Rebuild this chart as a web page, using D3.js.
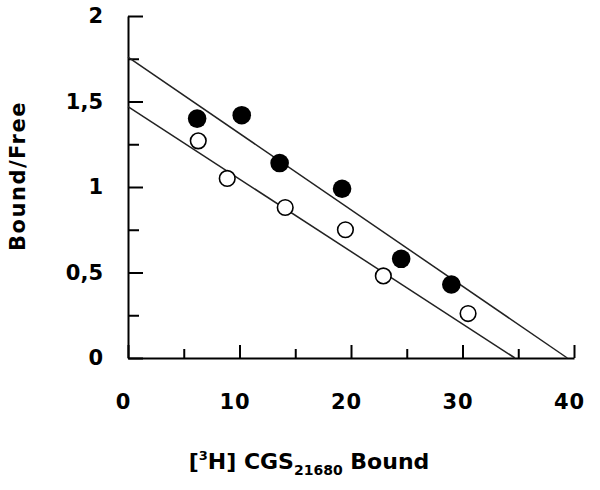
<!DOCTYPE html>
<html>
<head>
<meta charset="utf-8">
<script src="https://cdn.jsdelivr.net/npm/d3@7"></script>
<style>
  body { margin: 0; background: #fff; }
  text { font-family: "DejaVu Sans", sans-serif; font-weight: bold; fill: #000; }
</style>
</head>
<body>
<div id="chart"></div>
<script>
// filled circles
let boundFilled = [6.2, 10.2, 13.6, 19.2, 24.5, 29.0];
let ratioFilled = [1.40, 1.42, 1.14, 0.99, 0.58, 0.43];
// open circles
let boundOpen = [6.3, 8.9, 14.1, 19.5, 22.9, 30.5];
let ratioOpen = [1.27, 1.05, 0.88, 0.75, 0.48, 0.26];
// fitted lines, start and end
let fitFilledX = [0, 39.4], fitFilledY = [1.76, 0];
let fitOpenX = [0, 34.7], fitOpenY = [1.47, 0];

let xMajor = [0, 10, 20, 30, 40];
let xMinor = [5, 15, 25, 35];
let yMajor = [0, 0.5, 1, 1.5, 2];
let yMinor = [0.25, 0.75, 1.25, 1.75];
let yLabels = ["0", "0,5", "1", "1,5", "2"];

let svg = d3.select("#chart").append("svg")
  .attr("width", 600)
  .attr("height", 490);

let x = d3.scaleLinear().domain([0, 40]).range([128, 574]);
let y = d3.scaleLinear().domain([0, 2]).range([358, 16]);

// x axis
let xAx = svg.append("g").attr("transform", "translate(0,358)")
  .call(d3.axisBottom(x).tickValues(xMajor).tickSizeInner(-13).tickSizeOuter(0).tickPadding(36));
svg.append("g").attr("transform", "translate(0,358)")
  .call(d3.axisBottom(x).tickValues(xMinor).tickSizeInner(-9).tickSizeOuter(0).tickFormat(""))
  .select(".domain").remove();
xAx.selectAll("text").attr("font-size", 21).attr("dx", -5).style("letter-spacing", "1px");

// y axis
let yAx = svg.append("g").attr("transform", "translate(128,0)")
  .call(d3.axisLeft(y).tickValues(yMajor).tickSizeInner(-15).tickSizeOuter(0).tickPadding(25)
    .tickFormat((d, i) => yLabels[i]));
svg.append("g").attr("transform", "translate(128,0)")
  .call(d3.axisLeft(y).tickValues(yMinor).tickSizeInner(-11).tickSizeOuter(0).tickFormat(""))
  .select(".domain").remove();
yAx.selectAll("text").attr("font-size", 21);

svg.selectAll(".domain, .tick line").attr("stroke", "#000").attr("stroke-width", 2);
svg.selectAll(".tick text").style("font-family", "DejaVu Sans").style("font-weight", "bold");

// fitted lines
let line = d3.line().x(d => x(d[0])).y(d => y(d[1]));
svg.append("path")
  .attr("d", line(d3.zip(fitFilledX, fitFilledY)))
  .attr("fill", "none").attr("stroke", "#222").attr("stroke-width", 1.5);
svg.append("path")
  .attr("d", line(d3.zip(fitOpenX, fitOpenY)))
  .attr("fill", "none").attr("stroke", "#222").attr("stroke-width", 1.5);

// points
svg.selectAll(".open").data(d3.zip(boundOpen, ratioOpen)).enter()
  .append("circle")
    .attr("class", "open")
    .attr("cx", d => x(d[0]))
    .attr("cy", d => y(d[1]))
    .attr("r", 7.8)
    .attr("fill", "#fff")
    .attr("stroke", "#000")
    .attr("stroke-width", 1.6);

svg.selectAll(".filled").data(d3.zip(boundFilled, ratioFilled)).enter()
  .append("circle")
    .attr("class", "filled")
    .attr("cx", d => x(d[0]))
    .attr("cy", d => y(d[1]))
    .attr("r", 9.3)
    .attr("fill", "#000");

// axis titles
let xt = svg.append("text")
  .attr("x", 309)
  .attr("y", 469)
  .attr("text-anchor", "middle")
  .attr("font-size", 22);
xt.append("tspan").text("[");
xt.append("tspan").text("3").attr("font-size", 13).attr("dy", -9);
xt.append("tspan").text("H] CGS").attr("dy", 9);
xt.append("tspan").text("21680").attr("font-size", 14).attr("dy", 6);
xt.append("tspan").text(" Bound").attr("dy", -6);

svg.append("text")
  .attr("transform", "translate(25,176) rotate(-90)")
  .attr("text-anchor", "middle")
  .attr("font-size", 21)
  .style("letter-spacing", "1.5px")
  .text("Bound/Free");
</script>
</body>
</html>
